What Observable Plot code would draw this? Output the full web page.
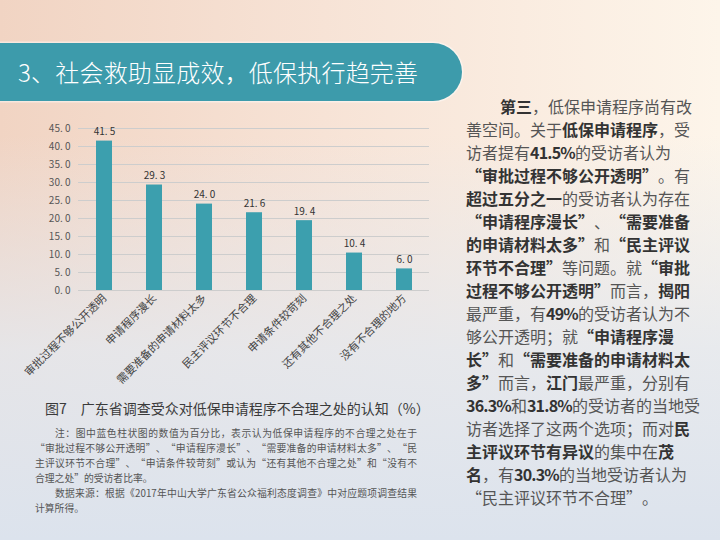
<!DOCTYPE html>
<html lang="zh-CN">
<head>
<meta charset="utf-8">
<script src="https://cdn.jsdelivr.net/npm/d3@7"></script>
<script src="https://cdn.jsdelivr.net/npm/@observablehq/plot@0.6"></script>
<style>
  html, body { margin: 0; padding: 0; }
  body {
    width: 720px; height: 540px; overflow: hidden; position: relative;
    font-family: "Noto Sans CJK SC", "Noto Sans", sans-serif;
    background:
      linear-gradient(to bottom, rgba(223,229,238,0) 0%, rgba(223,229,238,0) 25%, rgba(228,232,238,0.85) 65%, rgba(220,227,237,1) 100%),
      linear-gradient(to right, #f1d4c3 0%, #f7e3d6 45%, #fdf5ea 100%);
  }
  #banner {
    position: absolute; left: 0; top: 43px; width: 462px; height: 58px;
    background: #3d9bab; border-radius: 0 29px 29px 0;
    box-shadow: 0 0 0 1.5px rgba(255,255,255,0.45);
    color: #fff; font-size: 24px; line-height: 58px; padding-left: 18px; box-sizing: border-box;
    letter-spacing: 0.2px; font-weight: 300;
  }
  #chart { position: absolute; left: 0; top: 110px; }
  #caption {
    position: absolute; left: 45px; top: 398px; font-size: 14px; color: #3a3a3a; white-space: nowrap;
  }
  #note {
    position: absolute; left: 35px; top: 426px; width: 382px; font-size: 9.8px; line-height: 15px; color: #555;
  }
  #note div { white-space: nowrap; }
  #note .j { text-align: justify; text-align-last: justify; white-space: normal; }
  #text {
    position: absolute; left: 466px; top: 95px; width: 226px; font-size: 16px; line-height: 23px; color: #555;
  }
  #text div { white-space: nowrap; height: 23px; }
  #text b { color: #333; font-weight: 700; }
  #text .n { letter-spacing: -0.8px; }
  .ql, .qr { display: inline-block; width: 1em; }
  .ql { text-align: right; }
  .qr { text-align: left; }
</style>
</head>
<body>
<div id="banner">3、社会救助显成效，低保执行趋完善</div>
<div id="chart"></div>
<div id="caption">图7　广东省调查受众对低保申请程序不合理之处的认知（%）</div>
<div id="note">
  <div class="j" style="padding-left:20px">注：图中蓝色柱状图的数值为百分比，表示认为低保申请程序的不合理之处在于</div>
  <div class="j">“审批过程不够公开透明”、“申请程序漫长”、“需要准备的申请材料太多”、“民</div>
  <div class="j">主评议环节不合理”、“申请条件较苛刻”或认为“还有其他不合理之处”和“没有不</div>
  <div>合理之处”的受访者比率。</div>
  <div class="j" style="padding-left:20px">数据来源：根据《2017年中山大学广东省公众福利态度调查》中对应题项调查结果</div>
  <div>计算所得。</div>
</div>
<div id="text">
  <div style="padding-left:34px"><b>第三</b>，低保申请程序尚有改</div>
  <div>善空间。关于<b>低保申请程序</b>，受</div>
  <div>访者提有<b class="n">41.5%</b>的受访者认为</div>
  <div><b>“审批过程不够公开透明”</b>。有</div>
  <div><b>超过五分之一</b>的受访者认为存在</div>
  <div><b>“申请程序漫长”</b>、<b>“需要准备</b></div>
  <div><b>的申请材料太多”</b>和<b>“民主评议</b></div>
  <div><b>环节不合理”</b>等问题。就<b>“审批</b></div>
  <div><b>过程不够公开透明”</b>而言，<b>揭阳</b></div>
  <div>最严重，有<b class="n">49%</b>的受访者认为不</div>
  <div>够公开透明；就<b>“申请程序漫</b></div>
  <div><b>长”</b>和<b>“需要准备的申请材料太</b></div>
  <div><b>多”</b>而言，<b>江门</b>最严重，分别有</div>
  <div><b class="n">36.3%</b>和<b class="n">31.8%</b>的受访者的当地受</div>
  <div>访者选择了这两个选项；而对<b>民</b></div>
  <div><b>主评议环节有异议</b>的集中在<b>茂</b></div>
  <div><b>名</b>，有<b class="n">30.3%</b>的当地受访者认为</div>
  <div>“民主评议环节不合理”。</div>
</div>
<script>
document.querySelectorAll("#text, #note").forEach(el => {
  el.innerHTML = el.innerHTML
    .replace(/“/g, '<span class="ql">“</span>')
    .replace(/”/g, '<span class="qr">”</span>');
});

const categories = ["审批过程不够公开透明", "申请程序漫长", "需要准备的申请材料太多", "民主评议环节不合理", "申请条件较苛刻", "还有其他不合理之处", "没有不合理的地方"];
const values = [41.5, 29.3, 24.0, 21.6, 19.4, 10.4, 6.0];
const yTicks = [0, 5, 10, 15, 20, 25, 30, 35, 40, 45];

const data = categories.map((c, i) => ({cat: c, val: values[i]}));
const fmt = d => d.toFixed(1).replace(".", ". ");

const chart = Plot.plot({
  width: 440,
  height: 290,
  marginLeft: 78,
  marginRight: 11,
  marginTop: 18,
  marginBottom: 110,
  style: {background: "transparent", fontFamily: "'Noto Sans CJK SC', sans-serif", fontSize: "10px", color: "#444", overflow: "visible"},
  x: {domain: categories, paddingInner: 0.68, paddingOuter: 0.35, label: null},
  y: {domain: [0, 45], ticks: yTicks, label: null},
  marks: [
    Plot.ruleY(yTicks, {stroke: "#cdcdcd", strokeWidth: 1}),
    Plot.barY(data, {x: "cat", y: "val", fill: "#3c9fae"}),
    Plot.text(data, {x: "cat", y: "val", text: d => fmt(d.val), dy: -9, fontSize: 10, fill: "#333"}),
    Plot.axisY({ticks: yTicks, tickSize: 0, tickPadding: 8, tickFormat: fmt, label: null, fill: "#555", fontSize: 10, line: true, stroke: "#c4c4c4"}),
    Plot.axisX({tickRotate: -45, tickSize: 0, tickPadding: 6, label: null, fontSize: 11, fill: "#444"})
  ]
});
document.getElementById("chart").appendChild(chart);
</script>
</body>
</html>
